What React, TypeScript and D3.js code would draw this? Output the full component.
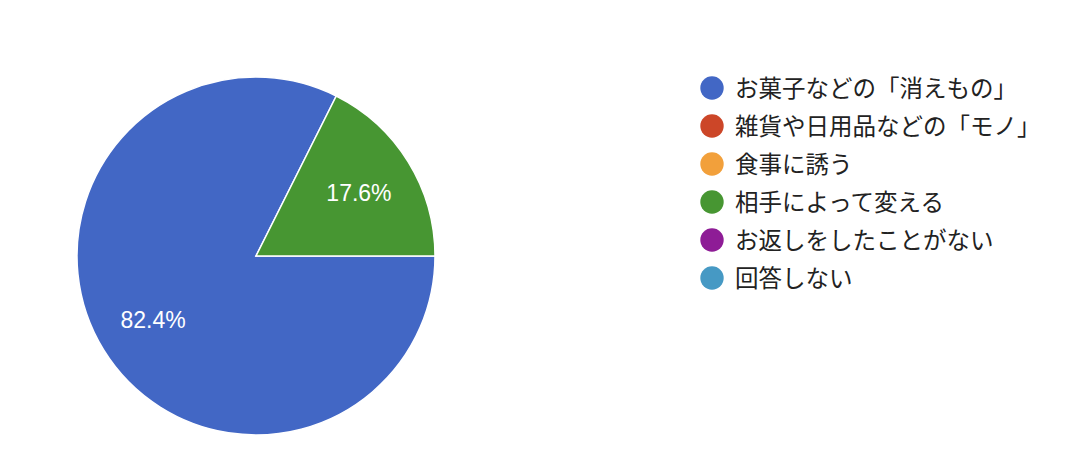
import React from 'react';
import * as d3 from 'd3';

const WIDTH = 1088;
const HEIGHT = 468;

// 回答の選択肢と割合(%)
const categories = [
  'お菓子などの「消えもの」',
  '雑貨や日用品などの「モノ」',
  '食事に誘う',
  '相手によって変える',
  'お返しをしたことがない',
  '回答しない',
];
const shares = [82.4, 0, 0, 17.6, 0, 0];
const colors = ['#4267c5', '#cc4628', '#f2a03b', '#479632', '#8e1c96', '#4699c4'];

const CENTER = { x: 256, y: 256 };
const RADIUS = 179;
const LABEL_RADIUS = 121;

const LEGEND = { x: 712, y: 88, step: 38, r: 11.7, textX: 735 };

const App = () => {
  const pie = d3
    .pie<number>()
    .sort(null)
    .startAngle(Math.PI / 2)
    .endAngle(Math.PI / 2 + Math.PI * 2)(shares);

  const arc = d3.arc<d3.PieArcDatum<number>>().innerRadius(0).outerRadius(RADIUS);
  const labelArc = d3
    .arc<d3.PieArcDatum<number>>()
    .innerRadius(LABEL_RADIUS)
    .outerRadius(LABEL_RADIUS);

  const legendY = d3
    .scalePoint<string>()
    .domain(categories)
    .range([LEGEND.y, LEGEND.y + LEGEND.step * (categories.length - 1)]);

  return (
    <svg
      width={WIDTH}
      height={HEIGHT}
      style={{ position: 'absolute', left: 0, top: 0, background: '#fff' }}
    >
      <g transform={`translate(${CENTER.x}, ${CENTER.y})`}>
        {pie
          .filter((d) => d.value > 0)
          .map((d) => (
            <path
              key={d.index}
              d={arc(d) as string}
              fill={colors[d.index]}
              stroke="#fff"
              strokeWidth={1.5}
            />
          ))}
        {pie
          .filter((d) => d.value > 0)
          .map((d) => {
            const [lx, ly] = labelArc.centroid(d);
            return (
              <text
                key={d.index}
                x={lx}
                y={ly}
                dy="0.36em"
                textAnchor="middle"
                fill="#fff"
                fontFamily="'Liberation Sans', Arial, sans-serif"
                fontSize={23}
              >
                {`${d.value.toFixed(1)}%`}
              </text>
            );
          })}
      </g>

      <g>
        {categories.map((c, i) => (
          <g key={c} transform={`translate(0, ${legendY(c)})`}>
            <circle cx={LEGEND.x} cy={0} r={LEGEND.r} fill={colors[i]} />
            <text
              x={LEGEND.textX}
              y={-1}
              dominantBaseline="central"
              fill="#222"
              fontFamily="'Noto Sans CJK JP', 'Noto Sans', sans-serif"
              fontSize={23.5}
            >
              {c}
            </text>
          </g>
        ))}
      </g>
    </svg>
  );
};

export default App;
